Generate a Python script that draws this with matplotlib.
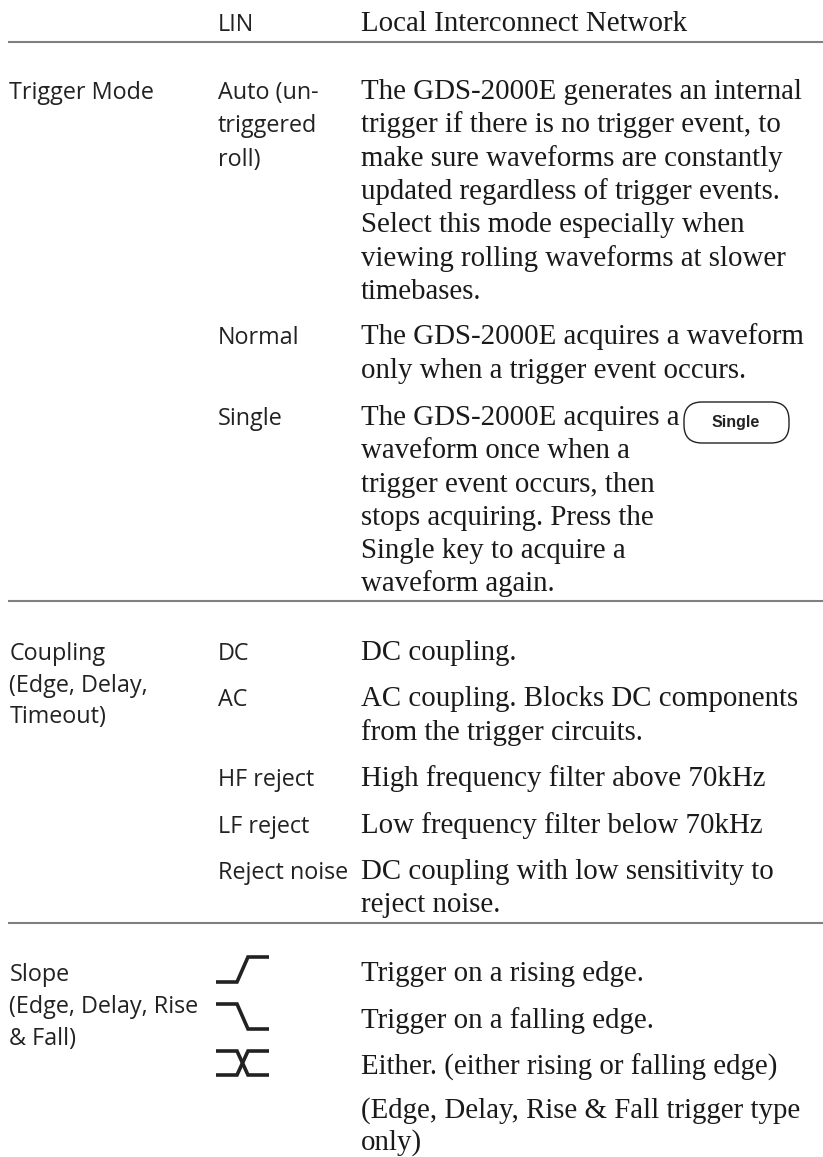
import matplotlib
matplotlib.use('Agg')
import matplotlib.pyplot as plt
from matplotlib.patches import FancyBboxPatch

W, H = 823, 1157
SANS = 'Open Sans'
SERIF = 'Liberation Serif'

# page text: (baseline y, string)
col1 = [(99, 'Trigger Mode'), (660, 'Coupling'), (692, '(Edge, Delay,'), (723, 'Timeout)'),
        (981, 'Slope'), (1013, '(Edge, Delay, Rise'), (1045, '& Fall)')]
col2 = [(31, 'LIN'), (99, 'Auto (un-'), (132, 'triggered'), (166, 'roll)'),
        (344, 'Normal'), (425, 'Single'), (660, 'DC'), (706, 'AC'),
        (786, 'HF reject'), (833, 'LF reject'), (879, 'Reject noise')]
col3 = [(31, 'Local Interconnect Network'),
        (99, 'The GDS-2000E generates an internal'),
        (132, 'trigger if there is no trigger event, to'),
        (166, 'make sure waveforms are constantly'),
        (199, 'updated regardless of trigger events.'),
        (232, 'Select this mode especially when'),
        (266, 'viewing rolling waveforms at slower'),
        (299, 'timebases.'),
        (344, 'The GDS-2000E acquires a waveform'),
        (378, 'only when a trigger event occurs.'),
        (425, 'The GDS-2000E acquires a'),
        (458, 'waveform once when a'),
        (492, 'trigger event occurs, then'),
        (525, 'stops acquiring. Press the'),
        (558, 'Single key to acquire a'),
        (591, 'waveform again.'),
        (660, 'DC coupling.'),
        (706, 'AC coupling. Blocks DC components'),
        (740, 'from the trigger circuits.'),
        (786, 'High frequency filter above 70kHz'),
        (833, 'Low frequency filter below 70kHz'),
        (879, 'DC coupling with low sensitivity to'),
        (912, 'reject noise.'),
        (981, 'Trigger on a rising edge.'),
        (1028, 'Trigger on a falling edge.'),
        (1075, 'Either. (either rising or falling edge)'),
        (1118, '(Edge, Delay, Rise & Fall trigger type'),
        (1150, 'only)')]
rules = [42, 601, 923]

# slope icons
icon_x = [216, 237, 248, 269]
rising = [982, 982, 957, 957]
falling = [1004, 1004, 1029, 1029]
cross_a = [1051, 1051, 1075, 1075]
cross_b = [1075, 1075, 1051, 1051]

fig = plt.figure(figsize=(W / 100, H / 100), dpi=100)
ax = fig.add_axes([0, 0, 1, 1])
ax.set_xlim(0, W)
ax.set_ylim(H, 0)
ax.axis('off')

for y, s in col1:
    ax.text(9.5, y, s, family=SANS, fontsize=16.8, color='#222222', va='baseline')
for y, s in col2:
    ax.text(218, y, s, family=SANS, fontsize=16.8, color='#222222', va='baseline')
for y, s in col3:
    ax.text(361, y, s, family=SERIF, fontsize=20.8, color='#1a1a1a', va='baseline')

for y in rules:
    ax.plot([8, W], [y, y], color='#808080', lw=1.5, solid_capstyle='butt')

# Single key
ax.add_patch(FancyBboxPatch((684, 402), 105, 41, boxstyle='round,pad=0,rounding_size=18',
                            fc='white', ec='#222222', lw=1.0))
ax.text(736, 422.5, 'Single', family='Liberation Sans', weight='bold', fontsize=11.5,
        ha='center', va='center', color='#222222')

for ys in (rising, falling, cross_a, cross_b):
    ax.plot(icon_x, ys, color='#222222', lw=2.6, solid_joinstyle='miter', solid_capstyle='butt')

fig.savefig('out.png', dpi=100)
